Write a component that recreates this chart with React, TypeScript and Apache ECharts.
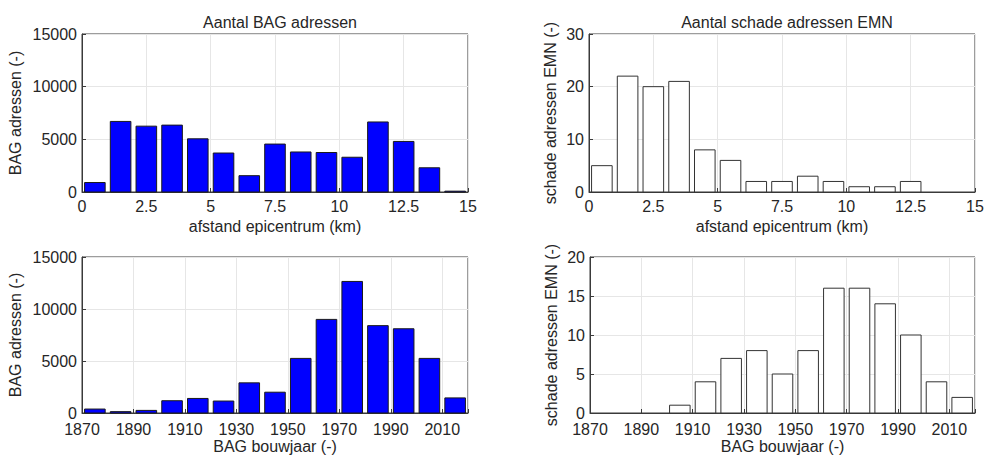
import React, { useEffect, useRef } from "react";
import * as echarts from "echarts";

// bins (km) centres
const distCenters = [0.5, 1.5, 2.5, 3.5, 4.5, 5.5, 6.5, 7.5, 8.5, 9.5, 10.5, 11.5, 12.5, 13.5, 14.5];
const bagByDist = [900, 6700, 6250, 6350, 5050, 3700, 1550, 4550, 3800, 3750, 3300, 6650, 4800, 2300, 80];
const emnByDist = [5, 22, 20, 21, 8, 6, 2, 2, 3, 2, 1, 1, 2, 0, 0];

// bins (year) centres
const yearCenters = [1875, 1885, 1895, 1905, 1915, 1925, 1935, 1945, 1955, 1965, 1975, 1985, 1995, 2005, 2015];
const bagByYear = [380, 130, 250, 1180, 1400, 1150, 2900, 2000, 5250, 9000, 12650, 8400, 8100, 5250, 1450];
const emnByYear = [0, 0, 0, 1, 4, 7, 8, 5, 8, 16, 16, 14, 10, 4, 2];

const YEAR_BASE = 1870;
const titles = ["Aantal BAG adressen", "Aantal schade adressen EMN"];
const xNames = ["afstand epicentrum (km)", "BAG bouwjaar (-)"];
const yNames = ["BAG adressen (-)", "schade adressen EMN (-)"];

const FONT = "'Liberation Sans', Arial, sans-serif";
const TXT = "#262626";
const FS = 16;

export default function App() {
  const ref = useRef<HTMLDivElement>(null);
  useEffect(() => {
    if (!ref.current) return;
    const chart = echarts.init(ref.current, null, { renderer: "svg" });

    const grids = [
      { left: 82, top: 34, width: 386, height: 158 },
      { left: 589, top: 34, width: 386, height: 158 },
      { left: 82, top: 257, width: 386, height: 156 },
      { left: 590, top: 257, width: 385, height: 156 },
    ].map((g) => ({ ...g, show: true, borderColor: "#3a3a3a", borderWidth: 1, backgroundColor: "#fff" }));

    const commonAxis = {
      axisLine: { show: true, lineStyle: { color: "#3a3a3a", width: 1 } },
      axisTick: { show: true, inside: true, length: 4, lineStyle: { color: "#3a3a3a" } },
      splitLine: { show: true, lineStyle: { color: "#e6e6e6", width: 1 } },
      axisLabel: { color: TXT, fontFamily: FONT, fontSize: FS, lineHeight: FS },
      nameLocation: "middle" as const,
    };

    const xAxis = [0, 1, 2, 3].map((i) => {
      const isYear = i >= 2;
      return {
        ...commonAxis,
        type: "value",
        gridIndex: i,
        min: 0,
        max: isYear ? 150 : 15,
        interval: isYear ? 20 : 2.5,
        name: xNames[isYear ? 1 : 0],
        nameGap: isYear ? 25 : 26,
        nameTextStyle: { color: TXT, fontFamily: FONT, fontSize: FS, lineHeight: FS },
        axisLabel: {
          ...commonAxis.axisLabel,
          margin: isYear ? 8 : 6,
          formatter: (v: number) => (isYear ? (v >= 150 ? "" : String(v + YEAR_BASE)) : String(v)),
        },
      };
    });

    const yMax = [15000, 30, 15000, 20];
    const yInt = [5000, 10, 5000, 5];
    const yGap = [59, 31, 59, 31];
    const yAxis = [0, 1, 2, 3].map((i) => ({
      ...commonAxis,
      type: "value",
      gridIndex: i,
      min: 0,
      max: yMax[i],
      interval: yInt[i],
      name: yNames[i % 2],
      nameGap: yGap[i],
      nameTextStyle: { color: TXT, fontFamily: FONT, fontSize: FS, lineHeight: FS },
      axisLabel: { ...commonAxis.axisLabel, margin: 5, formatter: (v: number) => String(v) },
    }));

    const mkSeries = (idx: number, xs: number[], ys: number[], halfW: number, fill: string, stroke: string, offset: number) => ({
      type: "custom",
      xAxisIndex: idx,
      yAxisIndex: idx,
      encode: { x: 0, y: 1 },
      data: xs.map((x, k) => [x - offset, ys[k]]),
      renderItem: (_p: any, api: any) => {
        const x = api.value(0);
        const y = api.value(1);
        if (!(y > 0)) return null;
        const p0 = api.coord([x - halfW, 0]);
        const p1 = api.coord([x + halfW, y]);
        return {
          type: "rect",
          shape: { x: p0[0], y: p1[1], width: p1[0] - p0[0], height: p0[1] - p1[1] },
          style: { fill, stroke, lineWidth: 1 },
        };
      },
    });

    const titleStyle = { color: TXT, fontFamily: FONT, fontSize: FS, fontWeight: "normal" };
    chart.setOption({
      animation: false,
      backgroundColor: "#fff",
      title: [
        { text: titles[0], left: 275, top: 9, textAlign: "center", textStyle: titleStyle },
        { text: titles[1], left: 782, top: 9, textAlign: "center", textStyle: titleStyle },
      ],
      grid: grids,
      xAxis,
      yAxis,
      series: [
        mkSeries(0, distCenters, bagByDist, 0.4, "#0000ff", "#1a1a1a", 0),
        mkSeries(1, distCenters, emnByDist, 0.4, "#ffffff", "#333333", 0),
        mkSeries(2, yearCenters, bagByYear, 4, "#0000ff", "#1a1a1a", YEAR_BASE),
        mkSeries(3, yearCenters, emnByYear, 4, "#ffffff", "#333333", YEAR_BASE),
      ],
    });
    return () => chart.dispose();
  }, []);
  return <div ref={ref} style={{ position: "fixed", left: 0, top: 0, width: 987, height: 459 }} />;
}
